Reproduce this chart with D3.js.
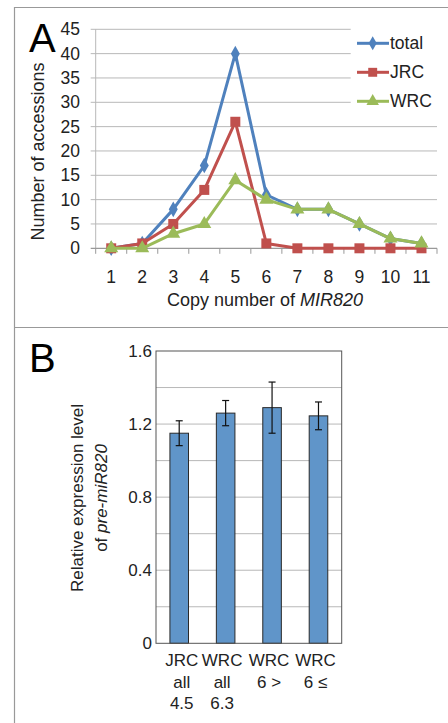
<!DOCTYPE html>
<html>
<head>
<meta charset="utf-8">
<script src="https://cdn.jsdelivr.net/npm/d3@7"></script>
<style>
  body { margin: 0; background: #fff; }
  svg { display: block; font-family: "Liberation Sans", Arial, sans-serif; }
</style>
</head>
<body>
<div id="chart"></div>
<script>
// panel A data
var copyNumbers = [1, 2, 3, 4, 5, 6, 7, 8, 9, 10, 11];
var totalCounts = [0, 1, 8, 17, 40, 11, 8, 8, 5, 2, 1];
var jrcCounts = [0, 1, 5, 12, 26, 1, 0, 0, 0, 0, 0];
var wrcCounts = [0, 0, 3, 5, 14, 10, 8, 8, 5, 2, 1];
var countTicks = [0, 5, 10, 15, 20, 25, 30, 35, 40, 45];

// panel B data
var groupLabels = [["JRC", "all", "4.5"], ["WRC", "all", "6.3"], ["WRC", "6 >"], ["WRC", "6 \u2264"]];
var exprValues = [1.15, 1.26, 1.29, 1.245];
var exprErrors = [0.068, 0.069, 0.14, 0.076];
var exprTicks = [0, 0.4, 0.8, 1.2, 1.6];
var exprGrid = [0.2, 0.4, 0.6, 0.8, 1.0, 1.2, 1.4];

var svg = d3.select("#chart").append("svg")
    .attr("width", 448)
    .attr("height", 723);

// frame around the panels
svg.append("line").attr("x1", 14.5).attr("x2", 14.5).attr("y1", 7).attr("y2", 723)
    .attr("stroke", "#999").attr("stroke-width", 1.2);
svg.append("line").attr("x1", 14.5).attr("x2", 448).attr("y1", 7.5).attr("y2", 7.5)
    .attr("stroke", "#999").attr("stroke-width", 1.2);
svg.append("line").attr("x1", 14.5).attr("x2", 448).attr("y1", 327.5).attr("y2", 327.5)
    .attr("stroke", "#999").attr("stroke-width", 1.2);

// ---------- panel A ----------
var ax0 = 95.7, ax1 = 437, ay0 = 248.3, ay1 = 29.3;

var xA = d3.scaleBand().domain(copyNumbers).range([ax0, ax1]).padding(0);
var yA = d3.scaleLinear().domain([0, 45]).range([ay0, ay1]);
function cx(d) { return xA(d) + xA.bandwidth() / 2; }

var gA = svg.append("g");

// gridlines (cut short where the legend sits)
gA.selectAll(".gridA").data(countTicks.filter(function (d) { return d > 0; }))
    .enter().append("line")
    .attr("x1", ax0 - 5)
    .attr("x2", function (d) { return d >= 30 ? 350.7 : ax1; })
    .attr("y1", function (d) { return yA(d); })
    .attr("y2", function (d) { return yA(d); })
    .attr("stroke", "#b8b8b8").attr("stroke-width", 1);

// y axis line
gA.append("line").attr("x1", ax0).attr("x2", ax0).attr("y1", ay1).attr("y2", ay0)
    .attr("stroke", "#b8b8b8").attr("stroke-width", 1);

// x axis line with ticks between categories
gA.append("line").attr("x1", ax0 - 5).attr("x2", ax1).attr("y1", ay0).attr("y2", ay0)
    .attr("stroke", "#999").attr("stroke-width", 1.2);
var bounds = copyNumbers.map(function (d) { return xA(d); }).concat([ax1]);
gA.selectAll(".xtick").data(bounds).enter().append("line")
    .attr("x1", function (d) { return d; }).attr("x2", function (d) { return d; })
    .attr("y1", ay0).attr("y2", ay0 + 5.5)
    .attr("stroke", "#999").attr("stroke-width", 1);

// tick labels
gA.selectAll(".ylab").data(countTicks).enter().append("text")
    .attr("x", 80).attr("y", function (d) { return yA(d); })
    .attr("dy", "0.35em").attr("text-anchor", "end")
    .attr("font-size", 17.5).attr("fill", "#222")
    .text(function (d) { return d; });
gA.selectAll(".xlab").data(copyNumbers).enter().append("text")
    .attr("x", cx).attr("y", 277)
    .attr("dy", "0.35em").attr("text-anchor", "middle")
    .attr("font-size", 17.5).attr("fill", "#222")
    .text(function (d) { return d; });

// axis titles
var xt = gA.append("text").attr("x", 265).attr("y", 300).attr("dy", "0.35em")
    .attr("text-anchor", "middle").attr("font-size", 18).attr("fill", "#222");
xt.append("tspan").text("Copy number of ");
xt.append("tspan").attr("font-style", "italic").text("MIR820");

gA.append("text")
    .attr("transform", "translate(38,151.5) rotate(-90)")
    .attr("dy", "0.35em").attr("text-anchor", "middle")
    .attr("font-size", 18).attr("fill", "#222")
    .text("Number of accessions");

svg.append("text").attr("x", 29).attr("y", 52)
    .attr("font-size", 40).attr("fill", "#000").text("A");

// series
var seriesA = [
    { name: "total", values: totalCounts, color: "#4f81bd", shape: d3.symbolDiamond, size: 70 },
    { name: "JRC", values: jrcCounts, color: "#c0504d", shape: d3.symbolSquare, size: 100 },
    { name: "WRC", values: wrcCounts, color: "#9bbb59", shape: d3.symbolTriangle, size: 85 }
];

var lineA = d3.line()
    .x(function (d, i) { return cx(copyNumbers[i]); })
    .y(function (d) { return yA(d); });

seriesA.forEach(function (s) {
    var g = gA.append("g");
    g.append("path").datum(s.values)
        .attr("fill", "none").attr("stroke", s.color).attr("stroke-width", 3)
        .attr("stroke-linejoin", "round")
        .attr("d", lineA);
    g.selectAll("path.mark").data(s.values).enter().append("path")
        .attr("class", "mark")
        .attr("transform", function (d, i) { return "translate(" + cx(copyNumbers[i]) + "," + yA(d) + ")"; })
        .attr("d", d3.symbol().type(s.shape).size(s.size))
        .attr("fill", s.color);
});

// legend
var legA = gA.append("g");
seriesA.forEach(function (s, i) {
    var ly = 43.3 + i * 29;
    legA.append("line").attr("x1", 357).attr("x2", 389).attr("y1", ly).attr("y2", ly)
        .attr("stroke", s.color).attr("stroke-width", 3);
    legA.append("path").attr("transform", "translate(372.7," + ly + ")")
        .attr("d", d3.symbol().type(s.shape).size(s.size * 0.8))
        .attr("fill", s.color);
    legA.append("text").attr("x", 390).attr("y", ly).attr("dy", "0.35em")
        .attr("font-size", 17.5).attr("fill", "#222").text(s.name);
});

// ---------- panel B ----------
var bx0 = 156, bx1 = 341.7, by0 = 643.3, by1 = 351;
var xB = d3.scaleBand().domain(d3.range(exprValues.length)).range([bx0, bx1]).paddingInner(0.6).paddingOuter(0.3);
var yB = d3.scaleLinear().domain([0, 1.6]).range([by0, by1]);

var gB = svg.append("g");

gB.selectAll(".gridB").data(exprGrid).enter().append("line")
    .attr("x1", bx0).attr("x2", bx1)
    .attr("y1", function (d) { return yB(d); }).attr("y2", function (d) { return yB(d); })
    .attr("stroke", "#b8b8b8").attr("stroke-width", 1);

gB.selectAll(".bar").data(exprValues).enter().append("rect")
    .attr("x", function (d, i) { return xB(i); })
    .attr("width", xB.bandwidth())
    .attr("y", function (d) { return yB(d); })
    .attr("height", function (d) { return yB(0) - yB(d); })
    .attr("fill", "#6095c9").attr("stroke", "#2a2a2a").attr("stroke-width", 1);

// error bars
var eb = gB.selectAll(".err").data(exprValues).enter().append("g");
eb.append("line")
    .attr("x1", function (d, i) { return xB(i) + xB.bandwidth() / 2; })
    .attr("x2", function (d, i) { return xB(i) + xB.bandwidth() / 2; })
    .attr("y1", function (d, i) { return yB(d + exprErrors[i]); })
    .attr("y2", function (d, i) { return yB(d - exprErrors[i]); })
    .attr("stroke", "#111").attr("stroke-width", 1.2);
[1, -1].forEach(function (sgn) {
    eb.append("line")
        .attr("x1", function (d, i) { return xB(i) + xB.bandwidth() / 2 - 3.5; })
        .attr("x2", function (d, i) { return xB(i) + xB.bandwidth() / 2 + 3.5; })
        .attr("y1", function (d, i) { return yB(d + sgn * exprErrors[i]); })
        .attr("y2", function (d, i) { return yB(d + sgn * exprErrors[i]); })
        .attr("stroke", "#111").attr("stroke-width", 1.2);
});

// plot box
gB.append("rect").attr("x", bx0).attr("y", by1)
    .attr("width", bx1 - bx0).attr("height", by0 - by1)
    .attr("fill", "none").attr("stroke", "#555").attr("stroke-width", 1);

gB.selectAll(".ylabB").data(exprTicks).enter().append("text")
    .attr("x", 152).attr("y", function (d) { return yB(d); })
    .attr("dy", "0.35em").attr("text-anchor", "end")
    .attr("font-size", 17).attr("fill", "#222")
    .text(function (d) { return d === 0 ? "0" : d3.format(".1f")(d); });

var labelNudge = [2.5, -3.5, -3, -3];
groupLabels.forEach(function (lines, i) {
    var t = gB.append("text").attr("text-anchor", "middle")
        .attr("font-size", 17).attr("fill", "#222");
    lines.forEach(function (l, j) {
        t.append("tspan").attr("x", xB(i) + xB.bandwidth() / 2 + labelNudge[i])
            .attr("y", 660 + j * 21.7).attr("dy", "0.35em").text(l);
    });
});

var yt = gB.append("text").attr("transform", "translate(77,498) rotate(-90)")
    .attr("text-anchor", "middle").attr("font-size", 17).attr("fill", "#222");
yt.append("tspan").attr("x", 0).attr("y", 0).attr("dy", "0.35em").text("Relative expression level");
var yt2 = yt.append("tspan").attr("x", 0).attr("y", 24).attr("dy", "0.35em");
yt2.append("tspan").text("of ");
yt2.append("tspan").attr("font-style", "italic").text("pre-miR820");

svg.append("text").attr("x", 29).attr("y", 372)
    .attr("font-size", 40).attr("fill", "#000").text("B");
</script>
</body>
</html>
